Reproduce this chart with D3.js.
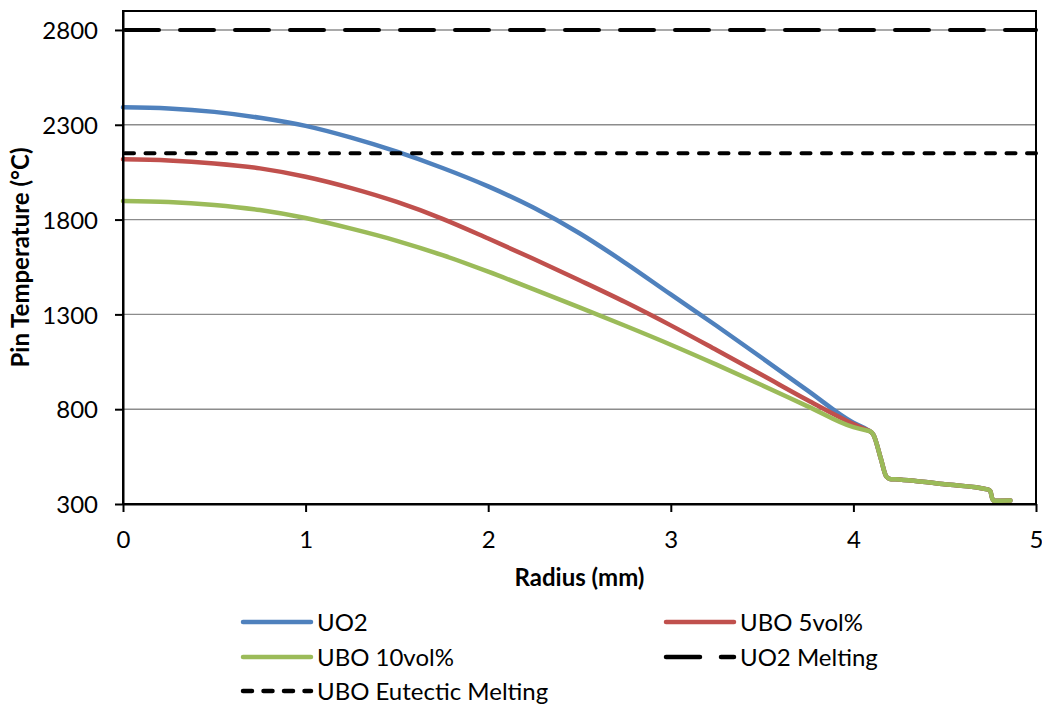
<!DOCTYPE html>
<html>
<head>
<meta charset="utf-8">
<script src="https://cdn.jsdelivr.net/npm/d3@7/dist/d3.min.js"></script>
<style>
  html, body { margin: 0; padding: 0; background: #fff; }
  svg text { font-family: Lato, "Open Sans", sans-serif; fill: #000; }
</style>
</head>
<body>
<svg id="chart" width="1042" height="704"></svg>
<script>
// ---- Data ----
const radius = [0, 0.25, 0.5, 0.75, 1.0, 1.25, 1.5, 1.75, 2.0, 2.25, 2.5, 2.75, 3.0, 3.25, 3.5, 3.75, 4.0, 4.08];
const tempUO2   = [2392, 2386, 2368, 2337, 2294, 2232, 2158, 2072, 1975, 1862, 1728, 1572, 1405, 1240, 1070, 898, 728, 690];
const tempUBO5  = [2118, 2112, 2096, 2070, 2026, 1966, 1893, 1804, 1700, 1592, 1480, 1365, 1242, 1112, 980, 847, 722, 688];
const tempUBO10 = [1898, 1893, 1877, 1850, 1808, 1752, 1688, 1612, 1525, 1432, 1337, 1240, 1140, 1035, 926, 815, 705, 686];
// gap + cladding region (shared by all three cases)
const tailRadius = [4.09, 4.11, 4.15, 4.18, 4.20, 4.23, 4.50, 4.74, 4.75, 4.76, 4.77, 4.86];
const tailTemp   = [684, 665, 540, 445, 432, 430, 404, 376, 368, 330, 317, 318];
const uo2Melting = 2800;
const uboEutectic = 2150;
const xTicks = [0, 1, 2, 3, 4, 5];
const yTicks = [300, 800, 1300, 1800, 2300, 2800];
const seriesNames = ["UO2", "UBO 5vol%", "UBO 10vol%", "UO2 Melting", "UBO Eutectic Melting"];

// ---- Layout ----
const svg = d3.select("#chart");
const L = 123, R = 1036, T = 11, B = 504;
const x = d3.scaleLinear().domain([0, 5]).range([L, R]);
const y = d3.scaleLinear().domain([300, 2900]).range([B, T]);

const colors = { uo2: "#4F81BD", ubo5: "#C0504D", ubo10: "#9BBB59" };

// gridlines
svg.append("g").selectAll("line").data(yTicks.slice(1)).join("line")
  .attr("x1", L).attr("x2", R)
  .attr("y1", d => y(d)).attr("y2", d => y(d))
  .attr("stroke", "#8c8c8c").attr("stroke-width", 1.4);

// series
function build(vals) {
  const pts = radius.map((r, i) => [r, vals[i]]);
  tailRadius.forEach((r, i) => pts.push([r, tailTemp[i]]));
  return pts;
}
const line = d3.line().x(d => x(d[0])).y(d => y(d[1])).curve(d3.curveMonotoneX);
const series = [
  { vals: tempUO2, color: colors.uo2 },
  { vals: tempUBO5, color: colors.ubo5 },
  { vals: tempUBO10, color: colors.ubo10 }
];
svg.append("g").selectAll("path").data(series).join("path")
  .attr("d", d => line(build(d.vals)))
  .attr("fill", "none").attr("stroke", d => d.color)
  .attr("stroke-width", 4.5).attr("stroke-linejoin", "round").attr("stroke-linecap", "round");

// melting reference lines
const longDash = "34,21", shortDash = "9,11.5";
svg.append("line").attr("x1", x(0) + 2).attr("x2", x(5)).attr("y1", y(uo2Melting)).attr("y2", y(uo2Melting))
  .attr("stroke", "#000").attr("stroke-width", 4).attr("stroke-dasharray", longDash).attr("stroke-linecap", "round");
svg.append("line").attr("x1", x(0) + 2).attr("x2", x(5)).attr("y1", y(uboEutectic)).attr("y2", y(uboEutectic))
  .attr("stroke", "#000").attr("stroke-width", 4).attr("stroke-dasharray", shortDash).attr("stroke-linecap", "round");

// frame
svg.append("rect").attr("x", L).attr("y", T).attr("width", R - L).attr("height", B - T)
  .attr("fill", "none").attr("stroke", "#000").attr("stroke-width", 2);

// axes
const fmt = d3.format("d");
const yAxis = d3.axisLeft(y).tickValues(yTicks).tickFormat(fmt).tickSize(8).tickSizeOuter(0).tickPadding(17);
const gy = svg.append("g").attr("transform", `translate(${L},0)`).call(yAxis);
gy.select(".domain").attr("stroke", "#000").attr("stroke-width", 2);
gy.selectAll(".tick line").attr("stroke", "#000").attr("stroke-width", 2);
gy.selectAll(".tick text").style("font-size", "24px").attr("dy", "0.36em");

const xAxis = d3.axisBottom(x).tickValues(xTicks).tickFormat(fmt).tickSize(8).tickSizeOuter(0).tickPadding(19);
const gx = svg.append("g").attr("transform", `translate(0,${B})`).call(xAxis);
gx.select(".domain").attr("stroke", "#000").attr("stroke-width", 2);
gx.selectAll(".tick line").attr("stroke", "#000").attr("stroke-width", 2);
gx.selectAll(".tick text").style("font-size", "24px").attr("dy", "0.71em");

// axis titles
svg.append("text").attr("x", (L + R) / 2).attr("y", 586).attr("text-anchor", "middle")
  .style("font-size", "24px").style("font-weight", "bold").text("Radius (mm)");
svg.append("text").attr("transform", `translate(29,${(T + B) / 2}) rotate(-90)`).attr("text-anchor", "middle")
  .style("font-size", "24px").style("font-weight", "bold").text("Pin Temperature (°C)");

// legend
const legend = [
  { name: seriesNames[0], color: colors.uo2, dash: null, lx: 241, ly: 622 },
  { name: seriesNames[1], color: colors.ubo5, dash: null, lx: 664, ly: 622 },
  { name: seriesNames[2], color: colors.ubo10, dash: null, lx: 241, ly: 657 },
  { name: seriesNames[3], color: "#000", dash: longDash, lx: 664, ly: 657 },
  { name: seriesNames[4], color: "#000", dash: shortDash, lx: 241, ly: 691 }
];
const lg = svg.append("g").selectAll("g").data(legend).join("g");
lg.append("line")
  .attr("x1", d => d.lx + 2).attr("x2", d => d.lx + 70)
  .attr("y1", d => d.ly).attr("y2", d => d.ly)
  .attr("stroke", d => d.color).attr("stroke-width", 4.5)
  .attr("stroke-linecap", "round")
  .attr("stroke-dasharray", d => d.dash);
lg.append("text").attr("x", d => d.lx + 76).attr("y", d => d.ly + 8.5)
  .style("font-size", "24px").text(d => d.name);
</script>
</body>
</html>
